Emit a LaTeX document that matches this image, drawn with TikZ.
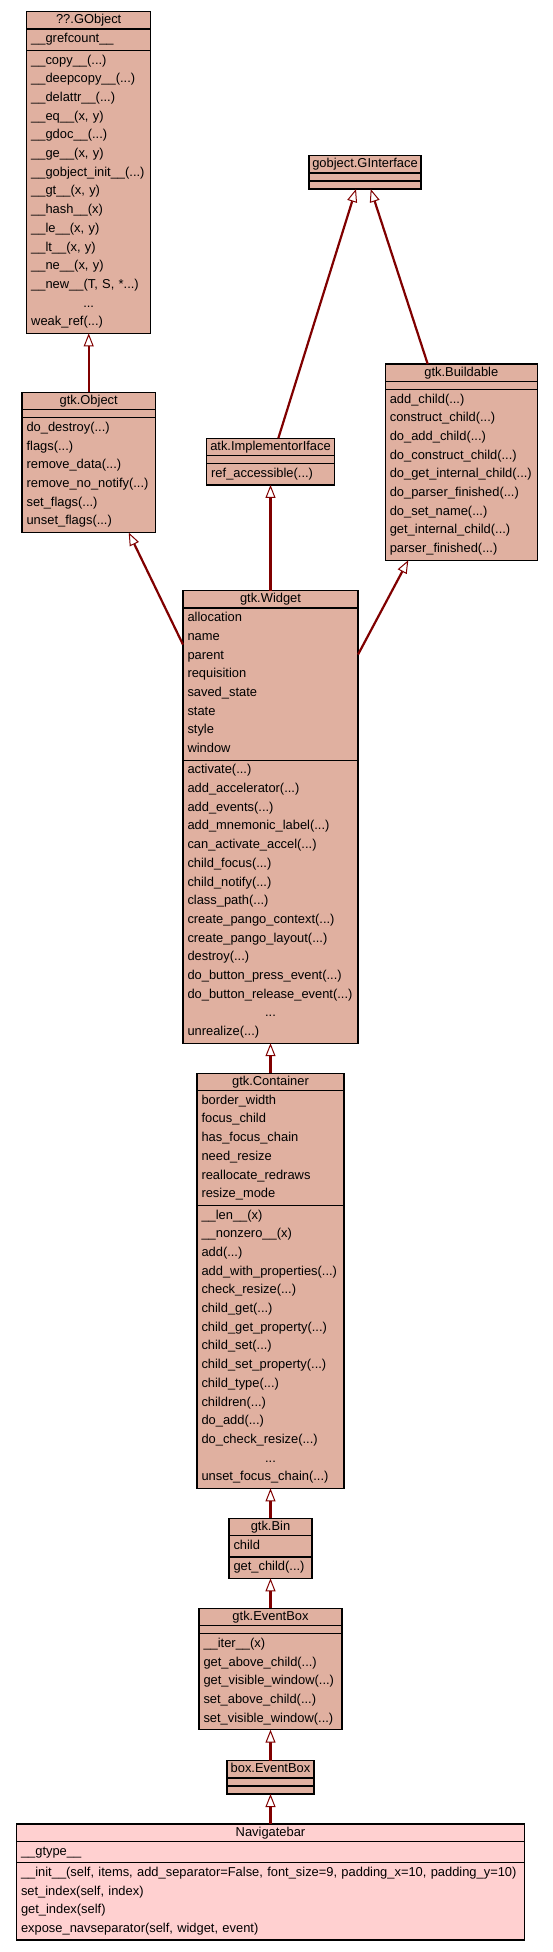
\documentclass[tikz,border=0pt]{standalone}
\usepackage{fontspec}
\setmainfont{Liberation Sans}
\usetikzlibrary{shapes.multipart,arrows.meta,positioning}
\definecolor{classbg}{HTML}{E0B0A0}
\definecolor{selectbg}{HTML}{FFD0D0}
\definecolor{inhlink}{HTML}{800000}
\newcommand{\rowstrut}{\rule[-6.3pt]{0pt}{18.7pt}}
\newcommand{\titlestrut}{\rule[-3.9pt]{0pt}{14.7pt}}
\newcommand{\emptyrow}{\rule{0pt}{5.4pt}}
\newcommand{\classtitle}[1]{\makebox[\hsize]{\titlestrut #1}}
\newcommand{\moredots}{\makebox[\hsize]{...}}
\tikzset{
  classbox/.style = {draw=black, line width=1.2pt, fill=classbg,
    rectangle split, rectangle split parts=3, inner xsep=4.5pt,
    inner ysep=0.7pt, outer sep=0pt, anchor=north,
    font=\fontsize{12.9pt}{18.7pt}\selectfont},
  selected/.style = {classbox, fill=selectbg},
  inherit/.style  = {-{Triangle[length=13pt, width=10pt, fill=white, line width=1pt]},
    draw=inhlink, line width=2.2pt}
}

\begin{document}
\begin{tikzpicture}[x=1pt, y=-1pt]
  \path[use as bounding box, fill=white] (0,0) rectangle (553,1952);

  \node[classbox, text width=115pt] (gobject) at (88.7,11.7)
    {\classtitle{??.GObject}
     \nodepart{two}\rowstrut\_\_grefcount\_\_
     \nodepart{three}\rowstrut\_\_copy\_\_(...)\\
     \_\_deepcopy\_\_(...)\\
     \_\_delattr\_\_(...)\\
     \_\_eq\_\_(x, y)\\
     \_\_gdoc\_\_(...)\\
     \_\_ge\_\_(x, y)\\
     \_\_gobject\_init\_\_(...)\\
     \_\_gt\_\_(x, y)\\
     \_\_hash\_\_(x)\\
     \_\_le\_\_(x, y)\\
     \_\_lt\_\_(x, y)\\
     \_\_ne\_\_(x, y)\\
     \_\_new\_\_(T, S, *...)\\
     \moredots\\
     weak\_ref(...)\rowstrut};
  \node[classbox, text width=124.3pt] (gtkobject) [below=59pt of gobject]
    {\classtitle{gtk.Object}
     \nodepart{two}\emptyrow
     \nodepart{three}\rowstrut do\_destroy(...)\\
     flags(...)\\
     remove\_data(...)\\
     remove\_no\_notify(...)\\
     set\_flags(...)\\
     unset\_flags(...)\rowstrut};

  \node[classbox, text width=103pt] (ginterface) at (365,155.7)
    {\classtitle{gobject.GInterface}
     \nodepart{two}\emptyrow
     \nodepart{three}\emptyrow};
  \node[classbox, text width=118.6pt] (implementor) at (270.5,438.3)
    {\classtitle{atk.ImplementorIface}
     \nodepart{two}\emptyrow
     \nodepart{three}\rowstrut ref\_accessible(...)};
  \node[classbox, text width=143pt] (buildable) at (461.3,364)
    {\classtitle{gtk.Buildable}
     \nodepart{two}\emptyrow
     \nodepart{three}\rowstrut add\_child(...)\\
     construct\_child(...)\\
     do\_add\_child(...)\\
     do\_construct\_child(...)\\
     do\_get\_internal\_child(...)\\
     do\_parser\_finished(...)\\
     do\_set\_name(...)\\
     get\_internal\_child(...)\\
     parser\_finished(...)\rowstrut};

  \node[classbox, text width=166pt] (widget) [below=105.7pt of implementor]
    {\classtitle{gtk.Widget}
     \nodepart{two}\rowstrut allocation\\
     name\\
     parent\\
     requisition\\
     saved\_state\\
     state\\
     style\\
     window\rowstrut
     \nodepart{three}\rowstrut activate(...)\\
     add\_accelerator(...)\\
     add\_events(...)\\
     add\_mnemonic\_label(...)\\
     can\_activate\_accel(...)\\
     child\_focus(...)\\
     child\_notify(...)\\
     class\_path(...)\\
     create\_pango\_context(...)\\
     create\_pango\_layout(...)\\
     destroy(...)\\
     do\_button\_press\_event(...)\\
     do\_button\_release\_event(...)\\
     \moredots\\
     unrealize(...)\rowstrut};

  \node[classbox, text width=138pt] (container) [below=30pt of widget]
    {\classtitle{gtk.Container}
     \nodepart{two}\rowstrut border\_width\\
     focus\_child\\
     has\_focus\_chain\\
     need\_resize\\
     reallocate\_redraws\\
     resize\_mode\rowstrut
     \nodepart{three}\rowstrut\_\_len\_\_(x)\\
     \_\_nonzero\_\_(x)\\
     add(...)\\
     add\_with\_properties(...)\\
     check\_resize(...)\\
     child\_get(...)\\
     child\_get\_property(...)\\
     child\_set(...)\\
     child\_set\_property(...)\\
     child\_type(...)\\
     children(...)\\
     do\_add(...)\\
     do\_check\_resize(...)\\
     \moredots\\
     unset\_focus\_chain(...)\rowstrut};

  \node[classbox, text width=74pt] (bin) [below=30pt of container]
    {\classtitle{gtk.Bin}
     \nodepart{two}\rowstrut child
     \nodepart{three}\rowstrut get\_child(...)};
  \node[classbox, text width=134pt] (eventbox) [below=30pt of bin]
    {\classtitle{gtk.EventBox}
     \nodepart{two}\emptyrow
     \nodepart{three}\rowstrut\_\_iter\_\_(x)\\
     get\_above\_child(...)\\
     get\_visible\_window(...)\\
     set\_above\_child(...)\\
     set\_visible\_window(...)\rowstrut};
  \node[classbox, text width=78pt] (boxevent) [below=31pt of eventbox]
    {\classtitle{box.EventBox}
     \nodepart{two}\emptyrow
     \nodepart{three}\emptyrow};
  \node[selected, text width=499pt] (navbar) [below=30pt of boxevent]
    {\classtitle{Navigatebar}
     \nodepart{two}\rowstrut\_\_gtype\_\_
     \nodepart{three}\rowstrut\mbox{\_\_init\_\_(self, items, add\_separator=False, font\_size=9, padding\_x=10, padding\_y=10)}\\
     set\_index(self, index)\\
     get\_index(self)\\
     expose\_navseparator(self, widget, event)\rowstrut};

  % inheritance links
  \draw[inherit] (gtkobject.north) -- (gobject.south);
  \draw[inherit] ([xshift=7.8pt]implementor.north) -- ([xshift=-9pt]ginterface.south);
  \draw[inherit] ([xshift=-33.6pt]buildable.north) -- ([xshift=5.7pt]ginterface.south);
  \draw[inherit] ([yshift=-54pt]widget.north west) -- ([xshift=40pt]gtkobject.south);
  \draw[inherit] (widget.north) -- (implementor.south);
  \draw[inherit] ([yshift=-64pt]widget.north east) -- ([xshift=-53pt]buildable.south);
  \draw[inherit] (container.north) -- (widget.south);
  \draw[inherit] (bin.north) -- (container.south);
  \draw[inherit] (eventbox.north) -- (bin.south);
  \draw[inherit] (boxevent.north) -- (eventbox.south);
  \draw[inherit] (navbar.north) -- (boxevent.south);
\end{tikzpicture}
\end{document}
